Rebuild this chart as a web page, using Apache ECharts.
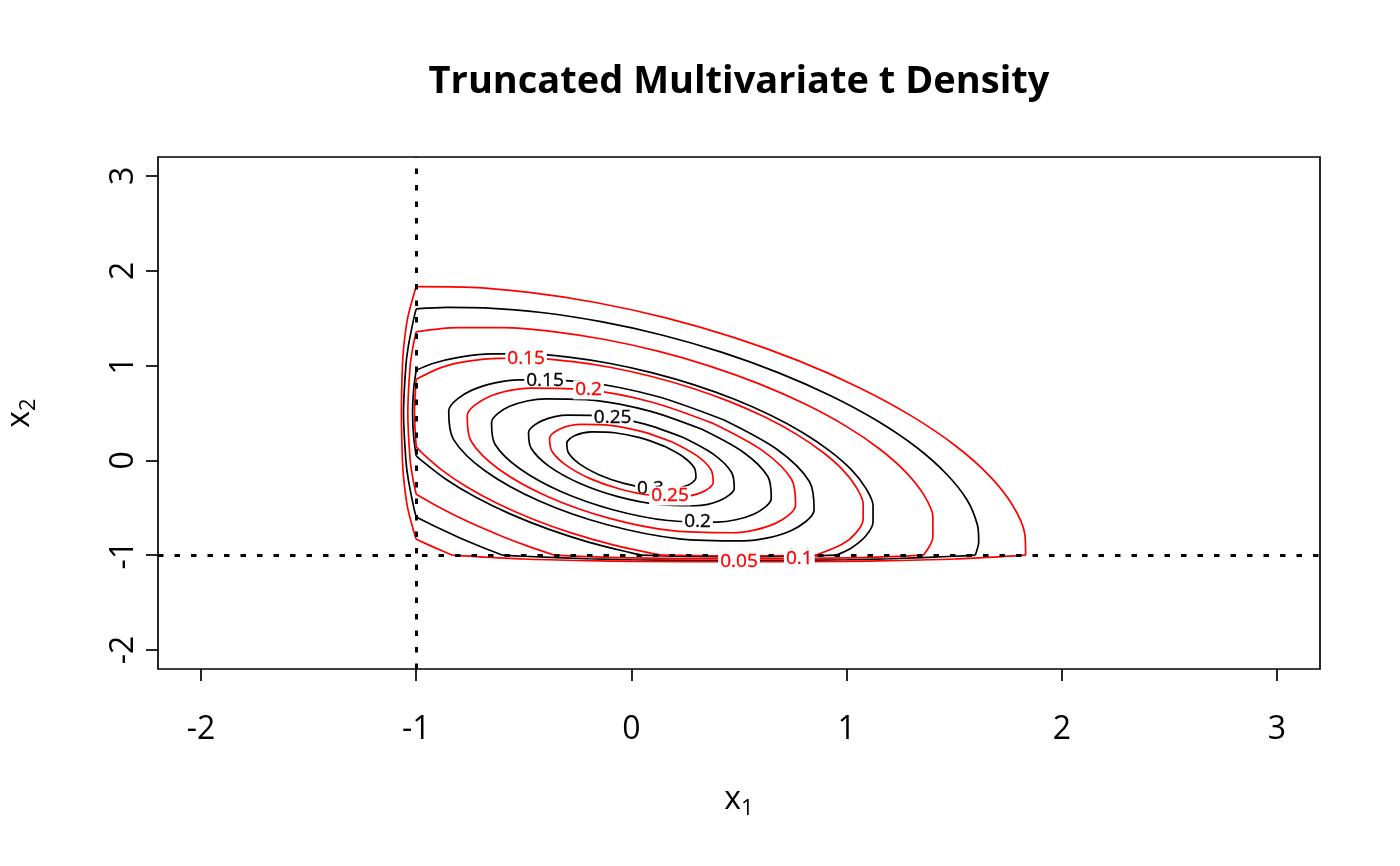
<!DOCTYPE html>
<html>
<head>
<meta charset="utf-8">
<script src="https://cdn.jsdelivr.net/npm/echarts@6/dist/echarts.min.js"></script>
<style>
html,body{margin:0;padding:0;background:#fff;}
#chart{width:1400px;height:866px;}
</style>
</head>
<body>
<div id="chart"></div>
<script>
// ---- axes ----
const xTicks = [-2, -1, 0, 1, 2, 3];
const yTicks = [-2, -1, 0, 1, 2, 3];
const xRange = [-2.2, 3.2];
const yRange = [-2.2, 3.2];
const lowerBounds = [-1, -1];
const levels = [0.05, 0.1, 0.15, 0.2, 0.25, 0.3];

// ---- black contours: truncated multivariate t density ----
const tContour005 = [[-1.0,1.598],[-0.856,1.614],[-0.682,1.608],[-0.418,1.56],[-0.141,1.463],[0.141,1.323],[0.418,1.142],[0.682,0.926],[0.926,0.682],[1.142,0.418],[1.323,0.141],[1.463,-0.141],[1.56,-0.418],[1.608,-0.682],[1.614,-0.856],[1.598,-1.0],[1.5,-1.011],[1.2,-1.037],[1.0,-1.048],[0.5,-1.059],[0.0,-1.048],[-0.2,-1.037],[-0.5,-1.011],[-0.598,-1.0],[-0.682,-0.926],[-0.807,-0.807],[-0.926,-0.682],[-1.0,-0.598],[-1.011,-0.5],[-1.037,-0.2],[-1.048,0.0],[-1.059,0.5],[-1.048,1.0],[-1.037,1.2],[-1.011,1.5],[-1.0,1.598]];
const tContour010 = [[-1.0,0.951],[-0.923,1.022],[-0.797,1.089],[-0.647,1.123],[-0.476,1.123],[-0.292,1.089],[-0.098,1.022],[0.098,0.923],[0.292,0.797],[0.476,0.647],[0.647,0.476],[0.797,0.292],[0.923,0.098],[1.022,-0.098],[1.089,-0.292],[1.123,-0.476],[1.123,-0.647],[1.089,-0.797],[1.022,-0.923],[0.951,-1.0],[0.75,-1.012],[0.5,-1.017],[0.25,-1.012],[0.049,-1.0],[0.0,-0.976],[-0.196,-0.864],[-0.386,-0.725],[-0.564,-0.564],[-0.725,-0.386],[-0.864,-0.196],[-0.976,0.0],[-1.0,0.049],[-1.012,0.25],[-1.017,0.5],[-1.012,0.75],[-1.0,0.951]];
const tContour015 = [[0.428,0.428],[0.679,0.112],[0.827,-0.222],[0.849,-0.521],[0.741,-0.741],[0.521,-0.849],[0.222,-0.827],[-0.112,-0.679],[-0.428,-0.428],[-0.679,-0.112],[-0.827,0.222],[-0.849,0.521],[-0.741,0.741],[-0.521,0.849],[-0.222,0.827],[0.112,0.679]];
const tContour020 = [[0.328,0.328],[0.52,0.086],[0.634,-0.17],[0.65,-0.399],[0.568,-0.568],[0.399,-0.65],[0.17,-0.634],[-0.086,-0.52],[-0.328,-0.328],[-0.52,-0.086],[-0.634,0.17],[-0.65,0.399],[-0.568,0.568],[-0.399,0.65],[-0.17,0.634],[0.086,0.52]];
const tContour025 = [[0.241,0.241],[0.382,0.063],[0.465,-0.125],[0.478,-0.293],[0.417,-0.417],[0.293,-0.478],[0.125,-0.465],[-0.063,-0.382],[-0.241,-0.241],[-0.382,-0.063],[-0.465,0.125],[-0.478,0.293],[-0.417,0.417],[-0.293,0.478],[-0.125,0.465],[0.063,0.382]];
const tContour030 = [[0.151,0.151],[0.24,0.039],[0.292,-0.078],[0.3,-0.184],[0.262,-0.262],[0.184,-0.3],[0.078,-0.292],[-0.039,-0.24],[-0.151,-0.151],[-0.24,-0.039],[-0.292,0.078],[-0.3,0.184],[-0.262,0.262],[-0.184,0.3],[-0.078,0.292],[0.039,0.24]];
// position of each level's label, as a (fractional) index along its contour
const tLabelAt = [19, 19.85, 13.4, 5.4, 14.2, 5.9];

// ---- red contours: truncated multivariate normal density ----
const nContour005 = [[-1.0,1.832],[-0.775,1.828],[-0.475,1.772],[-0.16,1.663],[0.16,1.503],[0.475,1.297],[0.775,1.052],[1.052,0.775],[1.297,0.475],[1.503,0.16],[1.663,-0.16],[1.772,-0.475],[1.828,-0.775],[1.832,-1.0],[1.8,-1.005],[1.5,-1.04],[1.2,-1.058],[1.0,-1.064],[0.5,-1.069],[0.0,-1.064],[-0.2,-1.058],[-0.5,-1.04],[-0.8,-1.005],[-0.832,-1.0],[-0.917,-0.917],[-1.0,-0.832],[-1.005,-0.8],[-1.04,-0.5],[-1.058,-0.2],[-1.064,0.0],[-1.069,0.5],[-1.064,1.0],[-1.058,1.2],[-1.04,1.5],[-1.005,1.8],[-1.0,1.832]];
const nContour010 = [[-1.0,1.357],[-0.807,1.401],[-0.594,1.401],[-0.364,1.359],[-0.123,1.275],[0.123,1.152],[0.364,0.995],[0.594,0.807],[0.807,0.594],[0.995,0.364],[1.152,0.123],[1.275,-0.123],[1.359,-0.364],[1.401,-0.594],[1.401,-0.807],[1.357,-1.0],[1.2,-1.015],[1.0,-1.028],[0.5,-1.039],[0.0,-1.028],[-0.2,-1.015],[-0.357,-1.0],[-0.481,-0.904],[-0.594,-0.807],[-0.703,-0.703],[-0.807,-0.594],[-0.904,-0.481],[-1.0,-0.357],[-1.015,-0.2],[-1.028,0.0],[-1.039,0.5],[-1.028,1.0],[-1.015,1.2],[-1.0,1.357]];
const nContour015 = [[-1.0,0.855],[-0.885,0.979],[-0.764,1.044],[-0.62,1.077],[-0.457,1.077],[-0.28,1.044],[-0.094,0.98],[0.094,0.885],[0.28,0.764],[0.457,0.62],[0.62,0.457],[0.764,0.28],[0.885,0.094],[0.98,-0.094],[1.044,-0.28],[1.077,-0.457],[1.077,-0.62],[1.044,-0.764],[0.979,-0.885],[0.855,-1.0],[0.5,-1.008],[0.145,-1.0],[0.094,-0.98],[-0.094,-0.885],[-0.28,-0.764],[-0.457,-0.62],[-0.62,-0.457],[-0.764,-0.28],[-0.885,-0.094],[-0.98,0.094],[-1.0,0.145],[-1.008,0.5],[-1.0,0.855]];
const nContour020 = [[0.385,0.385],[0.611,0.101],[0.744,-0.199],[0.763,-0.469],[0.667,-0.667],[0.469,-0.763],[0.199,-0.744],[-0.101,-0.611],[-0.385,-0.385],[-0.611,-0.101],[-0.744,0.199],[-0.763,0.469],[-0.667,0.667],[-0.469,0.763],[-0.199,0.744],[0.101,0.611]];
const nContour025 = [[0.192,0.192],[0.304,0.05],[0.37,-0.099],[0.38,-0.233],[0.332,-0.332],[0.233,-0.38],[0.099,-0.37],[-0.05,-0.304],[-0.192,-0.192],[-0.304,-0.05],[-0.37,0.099],[-0.38,0.233],[-0.332,0.332],[-0.233,0.38],[-0.099,0.37],[0.05,0.304]];
const nLabelAt = [18, 17.44, 3.8, 14, 5.4];

const tContours = [tContour005, tContour010, tContour015, tContour020, tContour025, tContour030];
const nContours = [nContour005, nContour010, nContour015, nContour020, nContour025];

// ---- helpers ----
function isClosed(p) {
  const a = p[0], b = p[p.length - 1];
  return a[0] === b[0] && a[1] === b[1];
}
function onBound(pt) { return pt[0] === lowerBounds[0] || pt[1] === lowerBounds[1]; }
function pointAt(p, f) {
  const i = Math.floor(f), t = f - i;
  const a = p[i], b = p[Math.min(i + 1, p.length - 1)];
  return [a[0] + (b[0] - a[0]) * t, a[1] + (b[1] - a[1]) * t];
}
// split a contour into pieces at the points where it meets the truncation bounds,
// so that each smooth arc keeps its sharp corners at the bounds
function pieces(p) {
  if (!isClosed(p)) {
    return [{ data: p.concat([p[0]]), smooth: 0.3 }];
  }
  const out = [];
  let start = 0;
  for (let i = 1; i < p.length; i++) {
    if (onBound(p[i]) || i === p.length - 1) {
      out.push({ data: p.slice(start, i + 1), smooth: 0.3 });
      start = i;
    }
  }
  return out;
}

const FONT = 'Open Sans';

function contourSeries(list, color, z) {
  const s = [];
  list.forEach(function (pts) {
    pieces(pts).forEach(function (pc) {
      s.push({
        type: 'line',
        data: pc.data,
        symbol: 'none',
        showSymbol: false,
        smooth: pc.smooth,
        lineStyle: { color: color, width: 1.7 },
        z: z,
        silent: true,
        animation: false
      });
    });
  });
  return s;
}
function labelSeries(list, at, color, z) {
  return {
    type: 'scatter',
    symbolSize: 2,
    itemStyle: { color: 'rgba(255,255,255,0)' },
    z: z,
    silent: true,
    animation: false,
    data: list.map(function (pts, i) {
      return { name: String(levels[i]), value: pointAt(pts, at[i]) };
    }),
    label: {
      show: true,
      position: 'inside',
      formatter: '{b}',
      color: color,
      opacity: 1,
      fontFamily: FONT,
      fontSize: 19,
      textBorderColor: color,
      textBorderWidth: 0.35,
      backgroundColor: '#fff',
      padding: [0, 2]
    },
    labelLayout: { hideOverlap: false }
  };
}

const series = []
  .concat(contourSeries(tContours, '#000', 2))
  .concat([labelSeries(tContours, tLabelAt, '#000', 3)])
  .concat(contourSeries(nContours, '#ff0000', 4))
  .concat([labelSeries(nContours, nLabelAt, '#ff0000', 5)])
  .concat([{
    type: 'line',
    data: [],
    z: 6,
    silent: true,
    animation: false,
    markLine: {
      silent: true,
      symbol: ['none', 'none'],
      label: { show: false },
      animation: false,
      lineStyle: { color: '#000', width: 3, type: [5.5, 11], cap: 'butt' },
      data: [{ xAxis: lowerBounds[0] }, { yAxis: lowerBounds[1] }]
    }
  }]);

function axisName(sub) {
  return {
    name: '{v|x}{s|' + sub + '}',
    nameLocation: 'middle',
    nameTextStyle: {
      rich: {
        v: { fontFamily: FONT, fontSize: 32, color: '#000', lineHeight: 40, verticalAlign: 'middle' },
        s: { fontFamily: FONT, fontSize: 22, color: '#000', lineHeight: 40, verticalAlign: 'bottom' }
      }
    }
  };
}

const option = {
  animation: false,
  backgroundColor: '#fff',
  title: {
    text: 'Truncated Multivariate t Density',
    left: 739,
    top: 63,
    textAlign: 'center',
    padding: 0,
    textStyle: { fontFamily: FONT, fontWeight: 'bold', fontSize: 38, color: '#000' }
  },
  grid: {
    show: true,
    left: 158, right: 80, top: 157, bottom: 197,
    containLabel: false,
    outerBoundsMode: 'none',
    borderColor: '#000', borderWidth: 1.7,
    backgroundColor: 'transparent'
  },
  xAxis: Object.assign({
    type: 'value',
    min: xRange[0], max: xRange[1],
    nameGap: 111,
    splitLine: { show: false },
    axisLine: { show: false, onZero: false },
    axisTick: { show: true, customValues: xTicks, length: 12, lineStyle: { color: '#000', width: 1.7 } },
    axisLabel: { customValues: xTicks, fontFamily: FONT, fontSize: 32, color: '#000', margin: 45 }
  }, axisName('1')),
  yAxis: Object.assign({
    type: 'value',
    min: yRange[0], max: yRange[1],
    nameGap: 118,
    nameRotate: 90,
    splitLine: { show: false },
    axisLine: { show: false, onZero: false },
    axisTick: { show: true, customValues: yTicks, length: 12, lineStyle: { color: '#000', width: 1.7 } },
    axisLabel: { customValues: yTicks, rotate: 90, fontFamily: FONT, fontSize: 32, color: '#000', margin: 18 }
  }, axisName('2')),
  series: series
};

const chart = echarts.init(document.getElementById('chart'), null, { renderer: 'canvas' });
chart.setOption(option);
</script>
</body>
</html>
